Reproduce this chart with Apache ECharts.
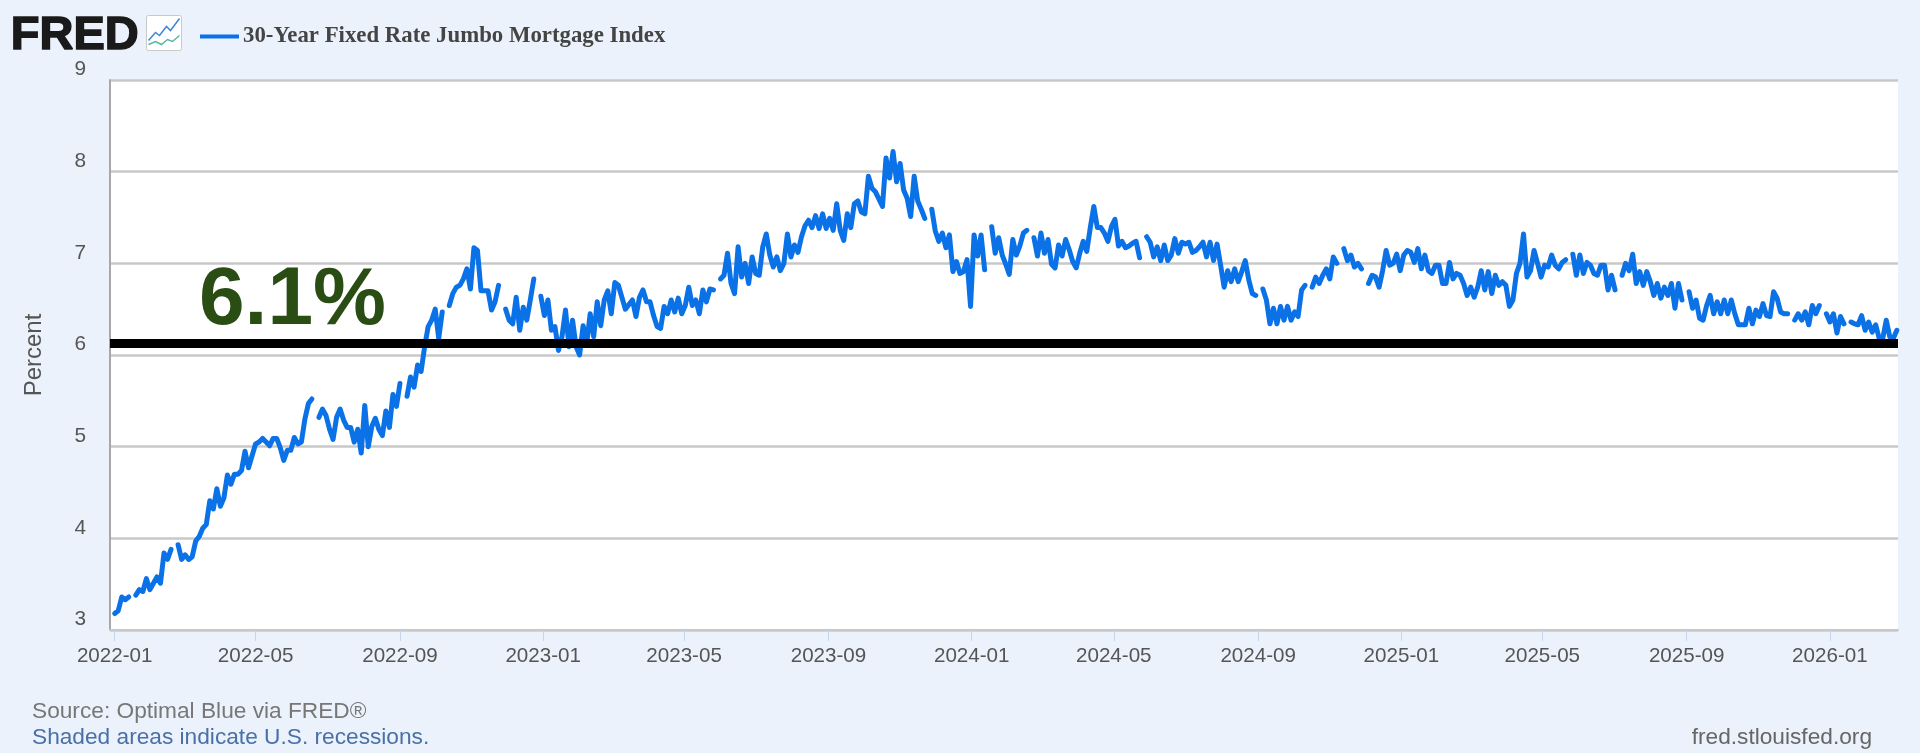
<!DOCTYPE html>
<html><head><meta charset="utf-8">
<style>html,body{margin:0;padding:0;background:#ebf2fb}#c{width:1920px;height:753px}</style>
<script src="https://cdn.jsdelivr.net/npm/echarts@6/dist/echarts.min.js"></script>
</head><body><div id="c"></div>
<script>
const seriesName = '30-Year Fixed Rate Jumbo Mortgage Index';
const startDay = '2022-01-01';
const stepDays = 3;
const values2022 = [3.18,3.21,3.36,3.33,3.36,null,3.38,3.44,3.42,3.56,
3.44,3.51,3.58,3.51,3.84,3.77,3.88,null,3.93,3.77,
3.82,3.77,3.8,3.97,4.02,4.11,4.15,4.41,4.32,4.54,
4.35,4.44,4.69,4.59,4.7,4.7,4.74,4.95,4.77,4.9,
5.03,5.05,5.09,5.05,5.01,5.09,5.09,4.99,4.85,4.96,
4.96,5.1,5.03,5.05,5.3,5.47,5.52,null,5.32,5.41,
5.34,5.19,5.08,5.32,5.41,5.29,5.21,5.21,5.05,5.19,
4.93,5.45,5.0,5.22,5.31,5.19,5.12,5.39,5.21,5.57,
5.44,5.69,null,5.55,5.76,5.65,5.89,5.82,6.09,6.31,
6.38,6.5,6.18,6.47,null,6.54,6.67,6.74,6.76,6.83,
6.94,6.72,7.17,7.14,6.7,6.7,6.7,6.49,6.58,6.76,
null,6.5,6.38,6.34,6.63,6.27,6.52,6.38,6.6,6.83,
null,6.64];
const values2023 = [6.43,6.6,6.27,6.31,6.05,6.2,6.49,6.09,
6.38,6.09,6,6.32,6.12,6.45,6.2,6.58,6.32,6.6,6.7,
6.45,6.79,6.76,6.63,6.5,6.55,6.6,6.42,6.63,6.71,6.58,
6.58,6.43,6.31,6.29,6.53,6.45,6.6,6.47,6.62,6.45,
6.54,6.74,6.54,6.6,6.45,6.71,6.58,6.72,6.71,null,
6.83,6.87,7.11,6.78,6.67,7.18,6.85,7,6.78,7.07,
6.89,6.87,7.18,7.32,7.09,6.96,7.07,6.92,7,7.32,
7.07,7.2,7.12,7.29,7.41,7.47,7.39,7.52,7.38,7.54,
7.38,7.49,7.36,7.65,7.36,7.25,7.54,7.39,7.65,7.68,
7.56,7.54,7.95,7.82,7.78,7.7,7.62,8.15,7.93,8.22,
7.89,8.09,7.8,7.71,7.51,7.95,7.68,7.59,7.49,null,
7.59,7.35,7.24,7.33,7.17,7.31,6.91,7.02,6.89,6.91,
7.04,6.53];
const values2024 = [7.31,7.08,7.31,6.93,null,7.4,7.11,7.28,7.09,6.99,
6.88,7.26,7.09,7.19,7.33,7.36,null,7.28,7.08,7.33,
7.11,7.26,6.99,6.95,7.2,7.08,7.26,7.15,7.02,6.95,
7.11,7.24,7.13,7.39,7.62,7.39,7.39,7.33,7.24,7.4,
7.48,7.19,7.24,7.17,7.19,7.22,7.24,7.06,null,7.29,
7.23,7.07,7.18,7.03,7.2,7.03,7.09,7.27,7.11,7.23,
7.21,7.23,7.12,7.14,7.18,7.23,7.07,7.23,7.03,7.21,
6.98,6.74,6.92,6.8,6.94,6.8,6.91,7.03,6.82,6.67,
6.65,null,6.72,6.6,6.34,6.51,6.34,6.53,6.38,6.53,
6.38,6.47,6.42,6.71,6.76,null,6.74,6.85,6.78,6.87,
6.94,6.83,7.07,7,null,7.16,7.03,7.09,6.96,7,
6.94,null,6.78,6.87,6.85,6.74,6.92,7.14,6.98,7,
7.1,6.92];
const values2025 = [7.09,7.14,7.12,7.01,7.16,6.94,7.09,6.92,6.89,6.98,
6.98,6.78,6.78,7.01,6.83,6.89,6.87,6.78,6.65,6.74,
6.63,6.74,6.92,6.71,6.91,6.67,6.87,6.76,6.8,6.76,
6.53,6.6,6.89,7.0,7.32,6.85,6.92,7.14,7,6.85,
6.98,6.96,7.09,6.98,6.94,7.01,7.04,null,7.1,6.87,
7.09,6.89,7.01,6.98,6.89,6.87,6.98,6.98,6.71,6.87,
6.71,null,6.87,7,6.92,7.1,6.78,6.91,6.76,6.91,
6.8,6.65,6.78,6.62,6.74,6.65,6.78,6.51,6.78,6.6,
null,6.69,6.51,6.6,6.4,6.38,6.54,6.65,6.45,6.58,
6.45,6.6,6.45,6.6,6.45,6.33,6.33,6.33,6.51,6.34,
6.49,6.42,6.56,6.43,6.42,6.69,6.62,6.47,6.45,6.45,
null,6.38,6.45,6.38,6.47,6.33,6.54,6.45,6.54,null,
6.45,6.36];
const values2026 = [6.45,6.24,6.42,6.34,null,6.36,6.34,6.33,6.43,6.27,
6.36,6.25,6.33,6.18,6.18,6.38,6.2,6.18,6.27];
const benchmarkRate = 6.125;
const benchmarkLabel = '6.1%';
const xTicks = ['2022-01-01','2022-05-01','2022-09-01','2023-01-01','2023-05-01','2023-09-01','2024-01-01','2024-05-01','2024-09-01','2025-01-01','2025-05-01','2025-09-01','2026-01-01'];
const yRange = [3, 9];
const xRange = ['2021-12-28', '2026-02-28'];

const allValues = [].concat(values2022, values2023, values2024, values2025, values2026);
const ts = s => Date.parse(s + 'T00:00:00Z');
const t0 = ts(startDay);
const seriesData = allValues.map((v, i) => [t0 + i * stepDays * 864e5, v]);
const tickTs = xTicks.map(ts);
const sans = '"Liberation Sans", Helvetica, Arial, sans-serif';

const chart = echarts.init(document.getElementById('c'), null, {renderer: 'canvas'});
chart.setOption({
  animation: false,
  backgroundColor: '#ebf2fb',
  grid: {left: 110, right: 22, top: 80, bottom: 123, show: true, backgroundColor: '#ffffff', borderWidth: 0},
  legend: {
    left: 195, top: 20, icon: 'rect', itemWidth: 39, itemHeight: 4, itemGap: 8,
    data: [seriesName],
    textStyle: {fontFamily: '"Liberation Serif", serif', fontWeight: 'bold', fontSize: 22.8, color: '#444444', padding: [0, 0, 0, -1]}
  },
  xAxis: {
    type: 'value', min: ts(xRange[0]), max: ts(xRange[1]),
    axisLine: {show: true, lineStyle: {color: '#c8c8c8', width: 2}},
    axisTick: {show: true, length: 11, customValues: tickTs, lineStyle: {color: '#c6d5e8', width: 1}},
    axisLabel: {customValues: tickTs, margin: 16, color: '#555555', fontFamily: sans, fontSize: 20.6, formatter: v => {
      const d = new Date(v); return d.getUTCFullYear() + '-' + String(d.getUTCMonth() + 1).padStart(2, '0');
    }},
    splitLine: {show: false}
  },
  yAxis: {
    type: 'value', min: yRange[0], max: yRange[1], interval: 1,
    name: 'Percent', nameLocation: 'middle', nameGap: 64, nameRotate: 90,
    nameTextStyle: {color: '#555555', fontFamily: sans, fontSize: 24},
    axisLine: {show: true, lineStyle: {color: '#a8a8a8', width: 2}},
    axisTick: {show: false},
    axisLabel: {margin: 24, color: '#555555', fontFamily: sans, fontSize: 20.8, verticalAlign: 'bottom'},
    splitLine: {show: true, lineStyle: {color: '#c8c8c8', width: 2.5}}
  },
  series: [{
    name: seriesName, type: 'line', data: seriesData, showSymbol: false, symbol: 'none',
    connectNulls: false, clip: true,
    lineStyle: {color: '#0a72e6', width: 5, join: 'round', cap: 'round'},
    itemStyle: {color: '#0a72e6'},
    markLine: {
      silent: true, symbol: 'none', animation: false, z: 10,
      label: {show: false},
      lineStyle: {color: '#000000', width: 9, type: 'solid'},
      data: [{yAxis: benchmarkRate}]
    }
  }],
  graphic: [
    {type: 'text', left: 10, top: 12, style: {text: 'FRED', fontFamily: sans, fontWeight: 'bold', fontSize: 47, fill: '#1a1a1a', stroke: '#1a1a1a', lineWidth: 1.5}},
    {type: 'group', left: 146, top: 15, children: [
      {type: 'rect', shape: {x: 0, y: 0, width: 35, height: 35, r: 2}, style: {fill: '#ffffff', stroke: '#c9c9c9', lineWidth: 1}},
      {type: 'polyline', shape: {points: [[2,25],[9,17],[13,20],[20,11],[24,15],[33,3]]}, style: {fill: 'none', stroke: '#3f86dc', lineWidth: 1.5}},
      {type: 'polyline', shape: {points: [[2,29],[9,26],[15,29],[21,24],[26,26],[33,20]]}, style: {fill: 'none', stroke: '#56b8a0', lineWidth: 1.5}}
    ]},
    {type: 'text', left: 199, top: 260, z: 20, style: {text: benchmarkLabel, fontFamily: sans, fontWeight: 'bold', fontSize: 82, fill: '#2a4d14'}},
    {type: 'text', left: 32, top: 700, style: {text: 'Source: Optimal Blue via FRED\u00ae', fontFamily: sans, fontSize: 22.7, fill: '#777777'}},
    {type: 'text', left: 32, top: 726, style: {text: 'Shaded areas indicate U.S. recessions.', fontFamily: sans, fontSize: 22.7, fill: '#4a70a8'}},
    {type: 'text', right: 48, top: 726, style: {text: 'fred.stlouisfed.org', fontFamily: sans, fontSize: 22.7, fill: '#666666'}}
  ]
});
</script></body></html>
